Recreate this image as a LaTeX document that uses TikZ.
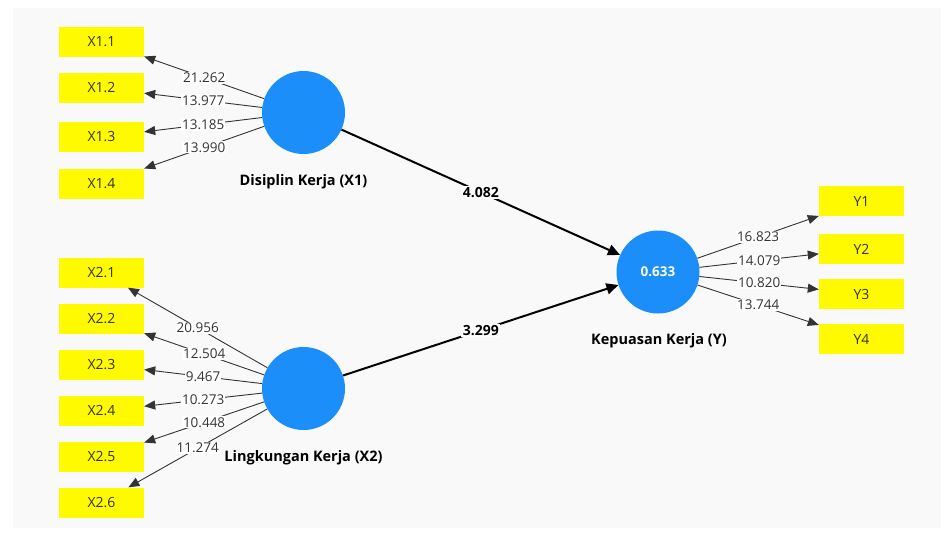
\documentclass[tikz,border=0pt]{standalone}
\usepackage{fontspec}
\setmainfont{Open Sans}
\usetikzlibrary{arrows.meta}
\definecolor{plsblue}{RGB}{28,142,250}
\definecolor{bgc}{RGB}{249,249,249}
\definecolor{boxyellow}{RGB}{255,250,0}
\definecolor{txtc}{RGB}{51,51,51}
\tikzset{
  ind/.style={fill=boxyellow, minimum width=85pt, minimum height=30pt, inner sep=0pt, text=txtc, font=\fontsize{14}{16}\selectfont},
  lv/.style={circle, fill=plsblue, minimum size=83pt, inner sep=0pt, text=white, font=\bfseries\fontsize{13.5}{16}\selectfont},
  lvname/.style={text=black, font=\bfseries\fontsize{14.5}{17}\selectfont},
  ld/.style={fill=white, inner sep=1pt, text=txtc, font=\fontsize{13.5}{15}\selectfont},
  ldin/.style={fill=white, inner sep=1.5pt, text=black, font=\bfseries\fontsize{14}{16}\selectfont},
  outl/.style={draw=black!80, line width=0.9pt, -{Triangle[length=11pt,width=9pt]}},
  innl/.style={draw=black, line width=2pt, -{Triangle[length=12pt,width=11pt]}}
}
\begin{document}
\begin{tikzpicture}[x=1pt,y=-1pt]
\useasboundingbox (0,0) rectangle (941,533);
\fill[white] (0,0) rectangle (941,533);
\fill[bgc] (13,8) rectangle (941,528);
% indicators X1
\node[ind] (x11) at (101.5,41.5) {X1.1};
\node[ind] (x12) at (101.5,88) {X1.2};
\node[ind] (x13) at (101.5,137) {X1.3};
\node[ind] (x14) at (101.5,183.5) {X1.4};
% indicators X2
\node[ind] (x21) at (101.5,272.5) {X2.1};
\node[ind] (x22) at (101.5,318.5) {X2.2};
\node[ind] (x23) at (101.5,364.5) {X2.3};
\node[ind] (x24) at (101.5,411) {X2.4};
\node[ind] (x25) at (101.5,457) {X2.5};
\node[ind] (x26) at (101.5,502.5) {X2.6};
% indicators Y
\node[ind] (y1) at (861.5,201) {Y1};
\node[ind] (y2) at (861.5,249) {Y2};
\node[ind] (y3) at (861.5,294) {Y3};
\node[ind] (y4) at (861.5,339) {Y4};
% latent variables
\node[lv] (c1) at (303.5,112.5) {};
\node[lv] (c2) at (303.5,388.5) {};
\node[lv] (cy) at (658,272) {0.633};
\node[lvname] (n1) at (303.5,182) {Disiplin Kerja (X1)};
\node[lvname] (ny) at (659,341) {Kepuasan Kerja (Y)};
% outer loadings X1
\draw[outl] (c1) -- node[ld]{21.262} (x11);
\draw[outl] (c1) -- node[ld]{13.977} (x12);
\draw[outl] (c1) -- node[ld]{13.185} (x13);
\draw[outl] (c1) -- node[ld]{13.990} (x14);
% outer loadings X2
\draw[outl] (c2) -- node[ld]{20.956} (x21);
\draw[outl] (c2) -- node[ld]{12.504} (x22);
\draw[outl] (c2) -- node[ld]{9.467} (x23);
\draw[outl] (c2) -- node[ld]{10.273} (x24);
\draw[outl] (c2) -- node[ld]{10.448} (x25);
\draw[outl] (c2) -- node[ld]{11.274} (x26);
% outer loadings Y
\draw[outl] (cy) -- node[ld]{16.823} (y1);
\draw[outl] (cy) -- node[ld]{14.079} (y2);
\draw[outl] (cy) -- node[ld]{10.820} (y3);
\draw[outl] (cy) -- node[ld]{13.744} (y4);
% inner paths
\draw[innl] (c1) -- node[ldin]{4.082} (cy);
\draw[innl] (c2) -- node[ldin]{3.299} (cy);
\node[lvname] (n2) at (303.5,458) {Lingkungan Kerja (X2)};
\end{tikzpicture}
\end{document}
